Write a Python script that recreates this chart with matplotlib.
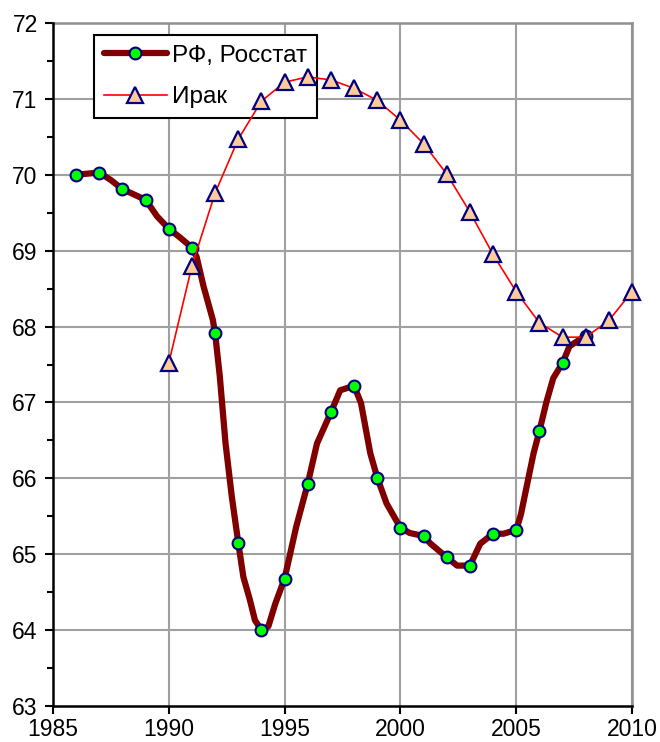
import matplotlib
matplotlib.use("Agg")
import matplotlib.pyplot as plt
from matplotlib.ticker import MultipleLocator

plt.rcParams['font.family'] = ['Liberation Sans', 'DejaVu Sans']

# Annual markers, RF (Rosstat)
rf_years = [1986, 1987, 1988, 1989, 1990, 1991, 1992, 1993, 1994, 1995, 1996, 1997,
            1998, 1999, 2000, 2001, 2002, 2003, 2004, 2005, 2006, 2007, 2008]
rf_values = [70.00, 70.03, 69.81, 69.67, 69.29, 69.04, 67.91, 65.15, 64.00, 64.68, 65.93, 66.87,
             67.22, 66.01, 65.35, 65.24, 64.96, 64.85, 65.27, 65.32, 66.62, 67.52, 67.88]

# Finer RF curve (line drawn through sub-annual values)
rf_line_years = [1986, 1987, 1987.5, 1988, 1989, 1989.5, 1990, 1990.5, 1991, 1991.2, 1991.5,
                 1991.9, 1992, 1992.2, 1992.45, 1992.72, 1993, 1993.22, 1993.5, 1993.72, 1994,
                 1994.3, 1994.6, 1995, 1995.25, 1995.5, 1996, 1996.4, 1997, 1997.4, 1998, 1998.3,
                 1998.7, 1999, 1999.4, 2000, 2000.4, 2001, 2001.3, 2002, 2002.45, 2003, 2003.45,
                 2004, 2004.45, 2005, 2005.2, 2005.45, 2005.75, 2006, 2006.3, 2006.6, 2007,
                 2007.3, 2008]
rf_line_values = [70.00, 70.03, 69.93, 69.81, 69.67, 69.45, 69.29, 69.17, 69.04, 68.92, 68.53,
                  68.09, 67.91, 67.35, 66.46, 65.76, 65.15, 64.70, 64.40, 64.13, 64.00,
                  64.05, 64.35, 64.68, 65.02, 65.36, 65.93, 66.46, 66.87, 67.16, 67.22, 66.99,
                  66.33, 66.01, 65.67, 65.35, 65.28, 65.24, 65.14, 64.96, 64.85, 64.85, 65.14,
                  65.27, 65.27, 65.32, 65.52, 65.89, 66.33, 66.62, 67.00, 67.32, 67.52,
                  67.74, 67.88]

# Iraq
iraq_years = [1990, 1991, 1992, 1993, 1994, 1995, 1996, 1997, 1998, 1999, 2000, 2001, 2002,
              2003, 2004, 2005, 2006, 2007, 2008, 2009, 2010]
iraq_values = [67.52, 68.80, 69.76, 70.47, 70.97, 71.22, 71.29, 71.25, 71.14, 70.98, 70.72,
               70.41, 70.01, 69.51, 68.95, 68.46, 68.05, 67.86, 67.86, 68.08, 68.46]

x_ticks = [1985, 1990, 1995, 2000, 2005, 2010]
y_ticks = [63, 64, 65, 66, 67, 68, 69, 70, 71, 72]

fig = plt.figure(figsize=(6.6, 7.42), dpi=100)
ax = fig.add_axes([53/660, 1 - 706/742, (632 - 53)/660, (706 - 23)/742])

ax.set_xlim(1985, 2010)
ax.set_ylim(63, 72)

# grid
for yv in y_ticks[1:]:
    ax.axhline(yv, color='#A0A0A0', lw=1.5, zorder=1)
for xv in x_ticks[1:]:
    ax.axvline(xv, color='#A0A0A0', lw=1.5, zorder=1)

# RF line
ax.plot(rf_line_years, rf_line_values, color='#800000', lw=4.5, zorder=3,
        solid_joinstyle='round', solid_capstyle='round')
ax.plot(rf_years, rf_values, linestyle='none', marker='o', markersize=8.5,
        markerfacecolor='#00FF00', markeredgecolor='#000080', markeredgewidth=1.5, zorder=4)
rf_handle = plt.Line2D([], [], color='#800000', lw=4.5, marker='o', markersize=8.5,
                       markerfacecolor='#00FF00', markeredgecolor='#000080', markeredgewidth=1.5,
                       solid_capstyle='round')

# Iraq
ax.plot(iraq_years, iraq_values, color='#FF0000', lw=1.2, marker='^', markersize=11.5,
        markerfacecolor='#FFCC99', markeredgecolor='#000080', markeredgewidth=1.6, zorder=5,
        clip_on=False)
iraq_handle = plt.Line2D([], [], color='#FF0000', lw=1.2, marker='^', markersize=11.5,
                         markerfacecolor='#FFCC99', markeredgecolor='#000080', markeredgewidth=1.6)

ax.set_xticks(x_ticks)
ax.set_yticks(y_ticks)
ax.yaxis.set_minor_locator(MultipleLocator(0.5))
ax.tick_params(axis='both', which='major', direction='out', length=6, width=1.5,
               labelsize=16.5, color='black', labelcolor='black')
ax.tick_params(axis='y', which='minor', direction='out', length=4, width=1.5)
ax.tick_params(axis='y', pad=5)
ax.tick_params(axis='x', pad=3)

for s in ['left', 'bottom']:
    ax.spines[s].set_color('black')
    ax.spines[s].set_linewidth(1.8)
for s in ['top', 'right']:
    ax.spines[s].set_color('#909090')
    ax.spines[s].set_linewidth(1.8)
ax.spines['left'].set_zorder(6)
ax.spines['bottom'].set_zorder(6)

leg = ax.legend([rf_handle, iraq_handle], ['РФ, Росстат', 'Ирак'],
                loc='upper left', bbox_to_anchor=((94 - 53)/579, 1 - (35 - 23)/683),
                borderaxespad=0, fancybox=False, framealpha=1, edgecolor='black',
                fontsize=17.5, handlelength=2.6, borderpad=0.4, labelspacing=0.8,
                handletextpad=0.2)
leg.get_frame().set_linewidth(1.5)
leg.set_zorder(2)

fig.savefig('out.png', dpi=100)
